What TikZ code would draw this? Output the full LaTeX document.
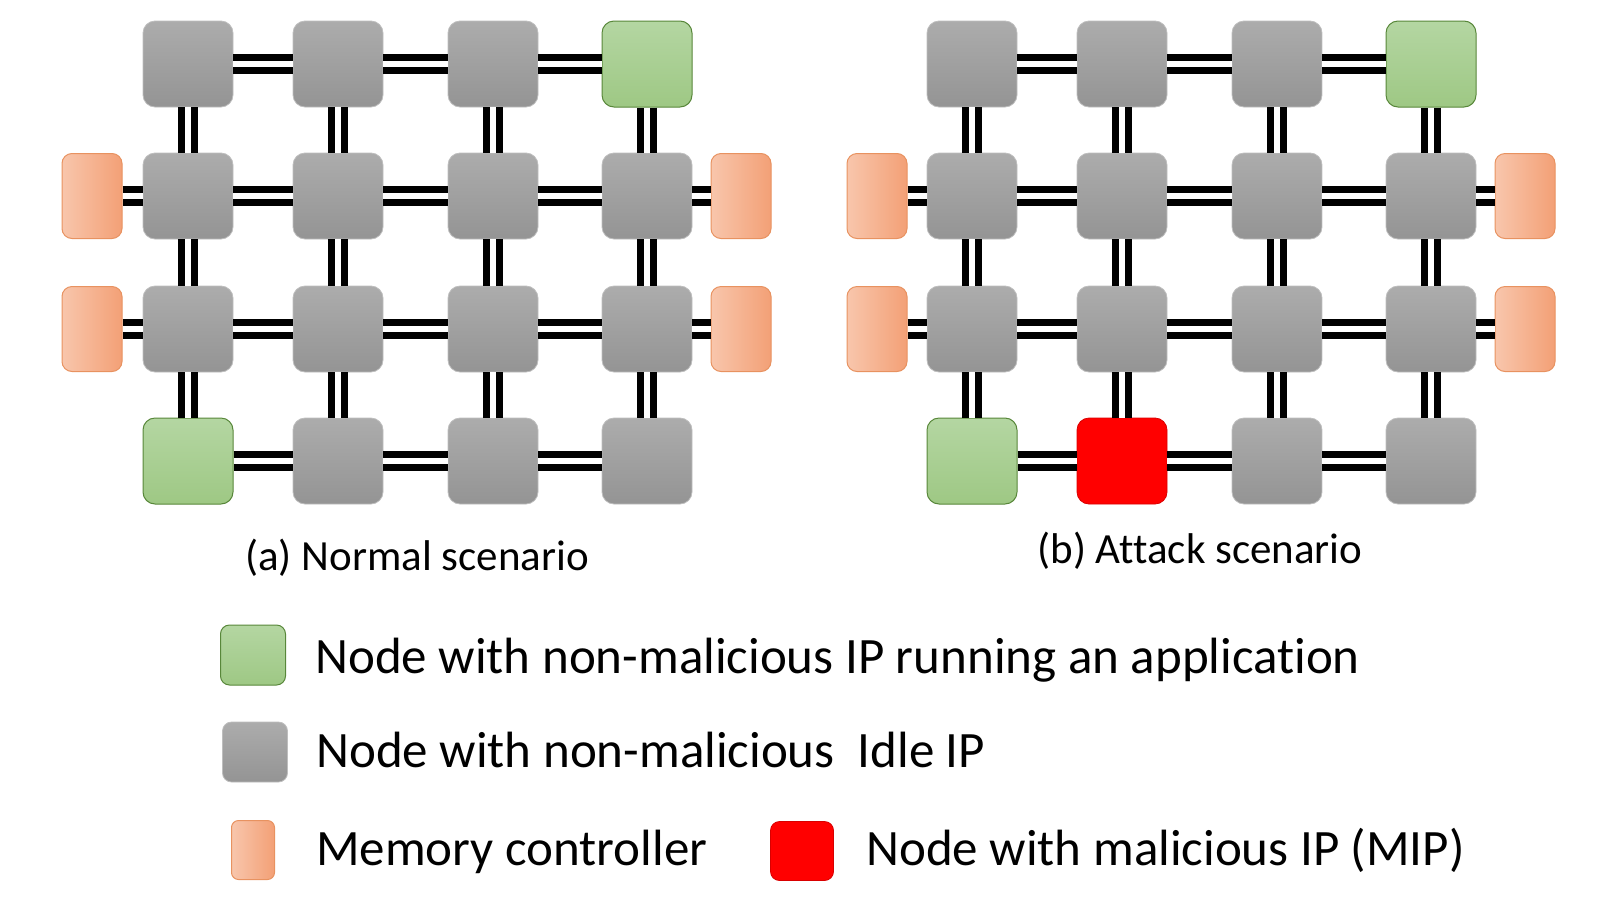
\documentclass[tikz,border=0pt]{standalone}
\usepackage{fontspec}
\setmainfont{Carlito}[Ligatures={NoCommon,NoContextual}, RawFeature=-calt]
\usepackage{tikz}

\definecolor{nodetop}{RGB}{172,172,172}
\definecolor{nodebot}{RGB}{148,148,148}
\definecolor{nodeedge}{RGB}{190,190,190}
\definecolor{apptop}{RGB}{180,214,162}
\definecolor{appbot}{RGB}{158,200,132}
\definecolor{appedge}{RGB}{88,135,58}
\definecolor{mcleft}{RGB}{248,198,172}
\definecolor{mcright}{RGB}{243,160,118}
\definecolor{mcedge}{RGB}{232,146,96}
\definecolor{mipred}{RGB}{255,0,0}

\tikzset{
  tile/.style={rounded corners=12pt, minimum width=90pt, minimum height=86pt, inner sep=0pt},
  router/.style={tile, top color=nodetop, bottom color=nodebot, draw=nodeedge, line width=0.8pt},
  app/.style={tile, top color=apptop, bottom color=appbot, draw=appedge, line width=1pt},
  mip/.style={tile, fill=mipred, draw=mipred!85!black, line width=0.8pt},
  memctl/.style={rounded corners=10pt, minimum width=60pt, minimum height=85pt, inner sep=0pt,
    left color=mcleft, right color=mcright, draw=mcedge, line width=1pt},
  link/.style={draw=black, line width=20pt, postaction={draw=white, line width=6pt}},
  caption/.style={font=\fontsize{43}{50}\selectfont, anchor=base},
  legtext/.style={font=\fontsize{51}{60}\selectfont, anchor=base west, inner sep=0pt}
}

\begin{document}
\begin{tikzpicture}[x=1pt, y=-1pt]
    \useasboundingbox (0, 0) rectangle (1622, 911);

    % (a) normal scenario
    \foreach \r/\y in {1/64, 2/196, 3/329, 4/461}
      \foreach \c/\x in {1/188, 2/338, 3/493, 4/647} {
        \def\kind{router}
        \ifnum\r\c=14 \def\kind{app}\fi
        \ifnum\r\c=41 \def\kind{app}\fi
        \node[\kind] (a\r\c) at (\x, \y) {};
      }
    \node[memctl] (amcl2) at (92, 196) {};
    \node[memctl] (amcl3) at (92, 329) {};
    \node[memctl] (amcr2) at (741, 196) {};
    \node[memctl] (amcr3) at (741, 329) {};

    % (b) attack scenario
    \foreach \r/\y in {1/64, 2/196, 3/329, 4/461}
      \foreach \c/\x in {1/972, 2/1122, 3/1277, 4/1431} {
        \def\kind{router}
        \ifnum\r\c=14 \def\kind{app}\fi
        \ifnum\r\c=41 \def\kind{app}\fi
        \ifnum\r\c=42 \def\kind{mip}\fi
        \node[\kind] (b\r\c) at (\x, \y) {};
      }
    \node[memctl] (bmcl2) at (877, 196) {};
    \node[memctl] (bmcl3) at (877, 329) {};
    \node[memctl] (bmcr2) at (1525, 196) {};
    \node[memctl] (bmcr3) at (1525, 329) {};

    % links
    \foreach \g in {a, b} {
      \foreach \r in {1, ..., 4}
        \foreach \c/\n in {1/2, 2/3, 3/4}
          \draw[link] (\g\r\c) -- (\g\r\n);
      \foreach \c in {1, ..., 4}
        \foreach \r/\n in {1/2, 2/3, 3/4}
          \draw[link] (\g\r\c) -- (\g\n\c);
      \draw[link] (\g mcl2) -- (\g21);
      \draw[link] (\g mcl3) -- (\g31);
      \draw[link] (\g24) -- (\g mcr2);
      \draw[link] (\g34) -- (\g mcr3);
    }

    % captions
    \node[caption] (capa) at (417, 570) {(a) Normal scenario};
    \node[caption] (capb) at (1200, 563) {(b) Attack scenario};

    % legend
    \node[app, minimum width=65pt, minimum height=60pt, rounded corners=9pt] (legapp) at (253, 655) {};
    \node[router, minimum width=65pt, minimum height=60pt, rounded corners=9pt] (legidle) at (255, 752) {};
    \node[memctl, minimum width=43pt, minimum height=59pt, rounded corners=7pt] (legmc) at (253, 850) {};
    \node[mip, minimum width=63pt, minimum height=59pt, rounded corners=9pt] (legmip) at (802, 851) {};

    \node[legtext] (txtapp) at (315, 673) {Node with non-malicious IP running an application};
    \node[legtext] (txtidle) at (316, 767) {Node with non-malicious\ \ Idle IP};
    \node[legtext] (txtmc) at (316, 865) {Memory controller};
    \node[legtext] (txtmip) at (866, 865) {Node with malicious IP (MIP)};
\end{tikzpicture}
\end{document}
